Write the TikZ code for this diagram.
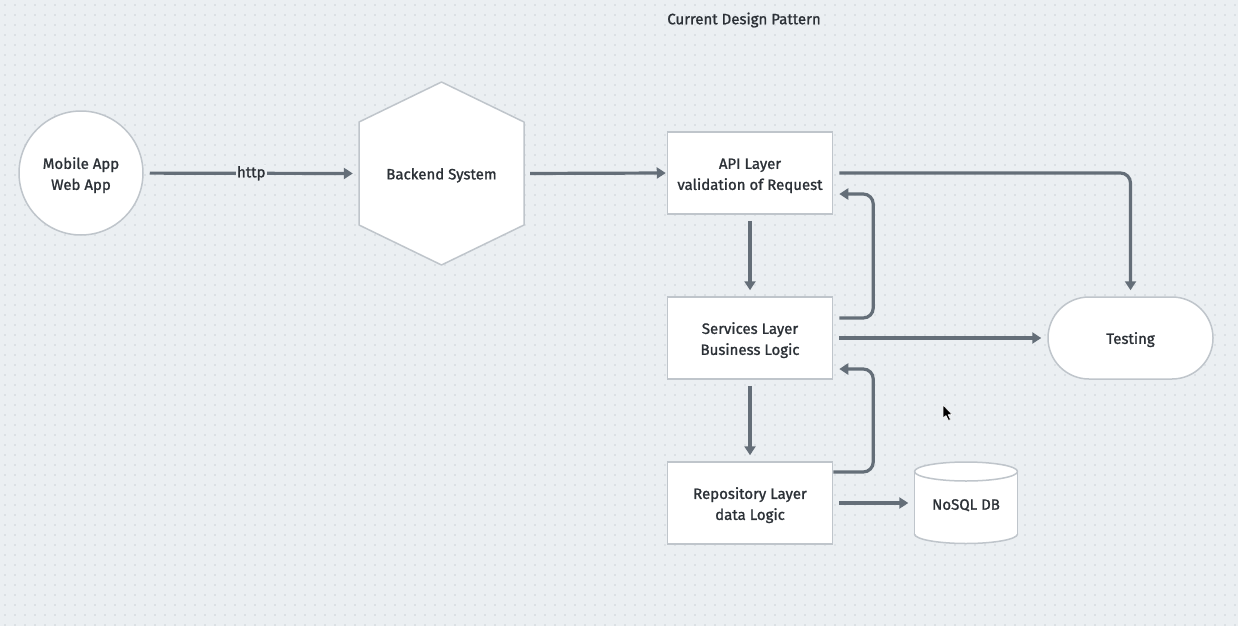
\documentclass[tikz,border=0pt]{standalone}
\usepackage{fontspec}
\setmainfont{Fira Sans}[FakeBold=1.2]
\usetikzlibrary{arrows.meta,shapes.misc}
\definecolor{bg}{HTML}{EBEFF2}
\definecolor{dotc}{HTML}{C6CCD2}
\definecolor{borderc}{HTML}{BFC5CB}
\definecolor{arrowc}{HTML}{646E78}
\definecolor{txtc}{HTML}{2B3036}
\tikzset{
  lbl/.style={text=txtc, font=\fontsize{15}{21}\selectfont, align=center},
  nodetext/.style={lbl, text height=15pt},
  twolines/.style={text height=37pt},
  box/.style={nodetext, draw=borderc, fill=white, line width=1.5pt, minimum width=165pt, minimum height=82pt, inner sep=0pt},
  circ/.style={nodetext, circle, draw=borderc, fill=white, line width=1.5pt, minimum size=124pt, inner sep=0pt},
  hexbox/.style={nodetext, minimum width=165pt, minimum height=183pt, inner sep=0pt},
  stadium/.style={nodetext, rounded rectangle, draw=borderc, fill=white, line width=1.5pt, minimum width=165pt, minimum height=82pt, inner sep=0pt},
  dbbox/.style={nodetext, minimum width=103pt, minimum height=82pt, inner sep=0pt},
  shapeline/.style={draw=borderc, fill=white, line width=1.5pt, line join=round},
  conn/.style={draw=arrowc, line width=3.2pt, -{Triangle[length=9pt,width=11pt]}, shorten >=6pt, shorten <=6pt},
  loopconn/.style={conn, rounded corners=10pt},
}
\begin{document}
\begin{tikzpicture}[x=1pt,y=-1pt]
\fill[bg] (0,0) rectangle (1238,626);
\useasboundingbox (0,0) rectangle (1238,626);
\foreach \j in {0,...,62}{
  \fill[dotc] \foreach \i in {0,...,123}{(\i*10+4.3,\j*10+4.3) rectangle ++(1.4,1.4)};
}

% title
\node[lbl] (title) at (744,20) {Current Design Pattern};

% client
\node[circ, twolines] (client) at (81,173) {Mobile App\\Web App};

% backend hexagon
\filldraw[shapeline] (441.5,82) -- (524,122) -- (524,225) -- (441.5,265) -- (359,225) -- (359,122) -- cycle;
\node[hexbox] (backend) at (441.5,173.5) {Backend System};

% layers
\node[box, twolines] (api) at (750,173) {API Layer\\validation of Request};
\node[box, twolines] (services) at (750,338) {Services Layer\\Business Logic};
\node[box, twolines] (repo) at (750,503) {Repository Layer\\data Logic};

% testing
\node[stadium] (testing) at (1130.5,338) {Testing};

% database cylinder
\filldraw[shapeline] (966,534) ellipse (51.5 and 9.5);
\fill[white] (914.5,471.5) rectangle (1017.5,534);
\draw[borderc, line width=1.5pt] (914.5,471.5) -- (914.5,534) (1017.5,471.5) -- (1017.5,534);
\filldraw[shapeline] (966,471.5) ellipse (51.5 and 9.5);
\node[dbbox] (db) at (966,503) {NoSQL DB};

% connectors
\draw[conn] (client) -- node[lbl, fill=bg, inner sep=1.5pt] {http} (backend.west);
\draw[conn, shorten >=1pt] (backend.east) -- (api.west);
\draw[conn] (api) -- (services);
\draw[conn] (services) -- (repo);
\draw[conn] (services) -- (testing);
\draw[conn] (repo) -- (db);
\draw[loopconn] (api.east) -| (testing.north);
\draw[loopconn] ([yshift=20pt]services.east) -- ++(40,0) |- ([yshift=-21pt]api.east);
\draw[loopconn, shorten <=0pt] ([yshift=31pt]repo.east) -- ++(40,0) |- ([yshift=-31pt]services.east);

% mouse cursor
\filldraw[black, draw=white, line width=0.5pt, line join=round] (943,405) -- (943,418) -- (946,415.5) -- (948.5,420.5) -- (950.5,419.5) -- (948,414.5) -- (952,414.5) -- cycle;
\end{tikzpicture}
\end{document}
